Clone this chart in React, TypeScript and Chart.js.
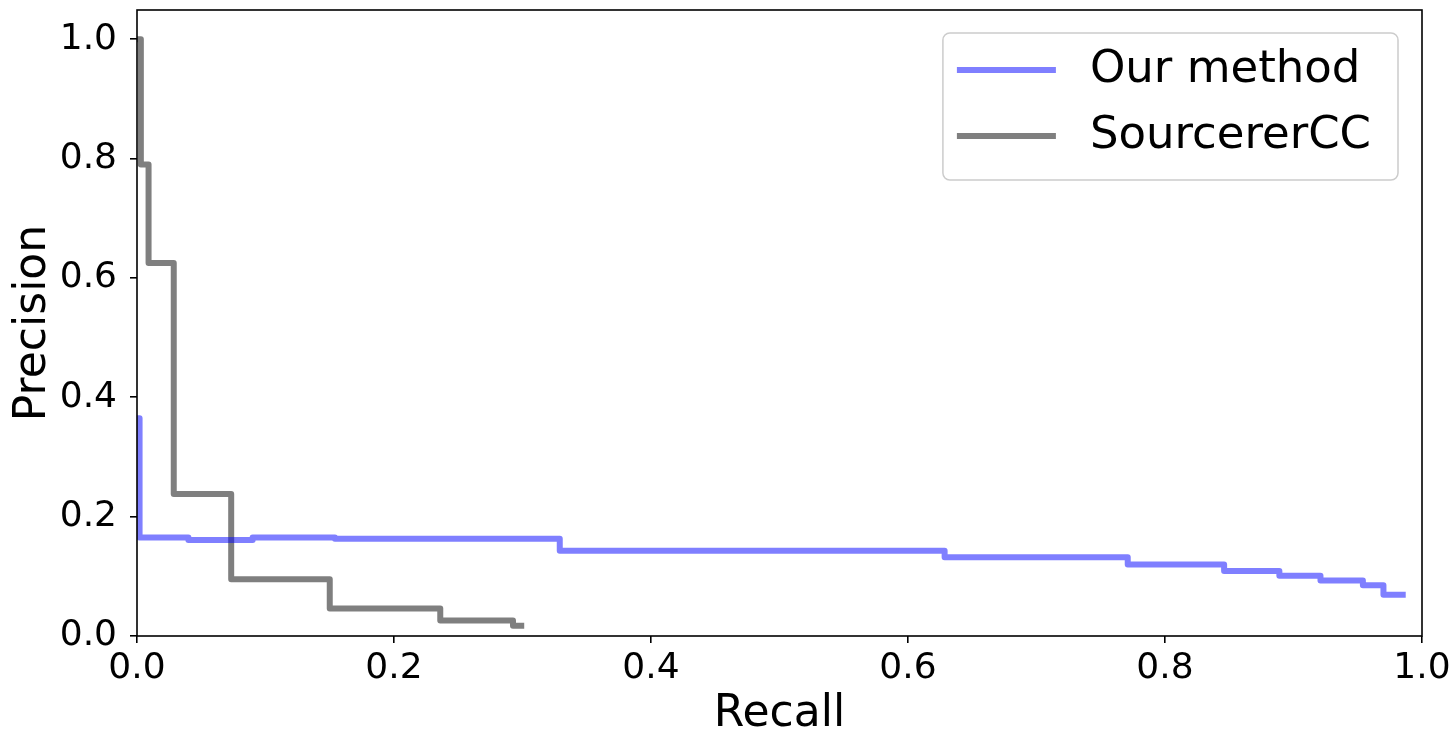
import React, { useEffect, useRef } from 'react';
import { Chart, registerables } from 'chart.js';

Chart.register(...registerables);

const FONT = '"DejaVu Sans", "Liberation Sans", sans-serif';

// Data (precision-recall step curves)
const seriesLabels = ['Our method', 'SourcererCC'];
const ourRecall = [0, 0.002, 0.040, 0.090, 0.154, 0.329, 0.6285, 0.771, 0.846, 0.889, 0.921, 0.954, 0.970, 0.985];
const ourPrecision = [0.365, 0.165, 0.161, 0.165, 0.163, 0.143, 0.132, 0.120, 0.109, 0.101, 0.093, 0.085, 0.069, 0.069];
const sccRecall = [0, 0.003, 0.0090, 0.0286, 0.0733, 0.150, 0.236, 0.2926, 0.299];
const sccPrecision = [1.0, 0.79, 0.625, 0.238, 0.095, 0.046, 0.026, 0.017, 0.017];
const xTicks = [0, 0.2, 0.4, 0.6, 0.8, 1.0];
const yTicks = [0, 0.2, 0.4, 0.6, 0.8, 1.0];
const xLabel = 'Recall';
const yLabel = 'Precision';
const seriesColors = ['rgba(0,0,255,0.5)', 'rgba(0,0,0,0.5)'];

const framePlugin = {
  id: 'frame',
  afterDatasetsDraw(chart: any) {
    const { ctx, chartArea: a } = chart;
    ctx.save();
    ctx.strokeStyle = '#000';
    ctx.lineWidth = 1.6;
    ctx.strokeRect(a.left, a.top, a.right - a.left, a.bottom - a.top);
    ctx.restore();
  },
};

const legendPlugin = {
  id: 'insideLegend',
  afterDraw(chart: any) {
    const { ctx, chartArea: a } = chart;
    const ds = chart.data.datasets;
    ctx.save();
    ctx.font = `45px ${FONT}`;
    const textW = Math.max(...ds.map((d: any) => ctx.measureText(d.label).width));
    const padL = 14, sample = 99, gap = 34, padR = 27;
    const boxW = padL + sample + gap + textW + padR;
    const boxH = 147;
    const right = a.right - 24;
    const x0 = right - boxW;
    const y0 = a.top + 23;
    ctx.beginPath();
    (ctx as any).roundRect(x0, y0, boxW, boxH, 7);
    ctx.fillStyle = 'rgba(255,255,255,0.8)';
    ctx.fill();
    ctx.strokeStyle = '#cccccc';
    ctx.lineWidth = 1.5;
    ctx.stroke();
    ds.forEach((d: any, i: number) => {
      const y = y0 + 37 + i * 66;
      ctx.beginPath();
      ctx.strokeStyle = d.borderColor;
      ctx.lineWidth = 6;
      ctx.lineCap = 'butt';
      ctx.moveTo(x0 + padL, y);
      ctx.lineTo(x0 + padL + sample, y);
      ctx.stroke();
      ctx.fillStyle = '#000';
      ctx.textBaseline = 'middle';
      ctx.textAlign = 'left';
      ctx.fillText(d.label, x0 + padL + sample + gap, y);
    });
    ctx.restore();
  },
};

export default function App() {
  const ref = useRef<HTMLCanvasElement | null>(null);

  useEffect(() => {
    if (!ref.current) return;
    const toPts = (xs: number[], ys: number[]) => xs.map((x, i) => ({ x, y: ys[i] }));
    const chart = new Chart(ref.current, {
      type: 'line',
      data: {
        datasets: [
          {
            label: seriesLabels[0],
            data: toPts(ourRecall, ourPrecision),
            borderColor: seriesColors[0],
            borderWidth: 6,
            pointRadius: 0,
            stepped: 'before',
            fill: false,
            borderCapStyle: 'square',
            borderJoinStyle: 'round',
          },
          {
            label: seriesLabels[1],
            data: toPts(sccRecall, sccPrecision),
            borderColor: seriesColors[1],
            borderWidth: 6,
            pointRadius: 0,
            stepped: 'before',
            fill: false,
            borderCapStyle: 'square',
            borderJoinStyle: 'round',
          },
        ],
      },
      options: {
        animation: false,
        responsive: false,
        devicePixelRatio: 1,
        layout: { padding: { top: 10, right: 31, bottom: 0, left: 0 } },
        plugins: { legend: { display: false }, tooltip: { enabled: false } },
        scales: {
          x: {
            type: 'linear',
            min: 0,
            max: 1,
            afterBuildTicks: (s: any) => {
              s.ticks = xTicks.map((v) => ({ value: v }));
            },
            afterFit: (s: any) => {
              s.height = 97;
              s.paddingLeft = 0;
              s.paddingRight = 0;
            },
            ticks: {
              font: { family: FONT, size: 36 },
              color: '#000',
              padding: 4,
              maxRotation: 0,
              autoSkip: false,
              callback: (v: any) => Number(v).toFixed(1),
            },
            grid: { display: true, drawOnChartArea: false, drawTicks: true, tickLength: 7, color: '#000', lineWidth: 1.6 },
            border: { display: false },
            title: {
              display: true,
              text: xLabel,
              color: '#000',
              font: { family: FONT, size: 44, lineHeight: 0.82 },
              padding: { top: 0, bottom: 0 },
            },
          },
          y: {
            type: 'linear',
            min: 0,
            max: 1.049,
            afterBuildTicks: (s: any) => {
              s.ticks = yTicks.map((v) => ({ value: v }));
            },
            afterFit: (s: any) => {
              s.width = 137;
              s.paddingTop = 0;
              s.paddingBottom = 0;
            },
            ticks: {
              font: { family: FONT, size: 36 },
              color: '#000',
              padding: 13,
              autoSkip: false,
              callback: (v: any) => Number(v).toFixed(1),
            },
            grid: { display: true, drawOnChartArea: false, drawTicks: true, tickLength: 7, color: '#000', lineWidth: 1.6 },
            border: { display: false },
            title: {
              display: true,
              text: yLabel,
              color: '#000',
              font: { family: FONT, size: 44, lineHeight: 1 },
              padding: { top: 12, bottom: 0 },
            },
          },
        },
      } as any,
      plugins: [framePlugin, legendPlugin],
    });
    return () => chart.destroy();
  }, []);

  return (
    <div style={{ position: 'absolute', left: 0, top: 0, width: 1453, height: 733, background: '#fff' }}>
      <canvas ref={ref} width={1453} height={733} style={{ display: 'block' }} />
    </div>
  );
}
